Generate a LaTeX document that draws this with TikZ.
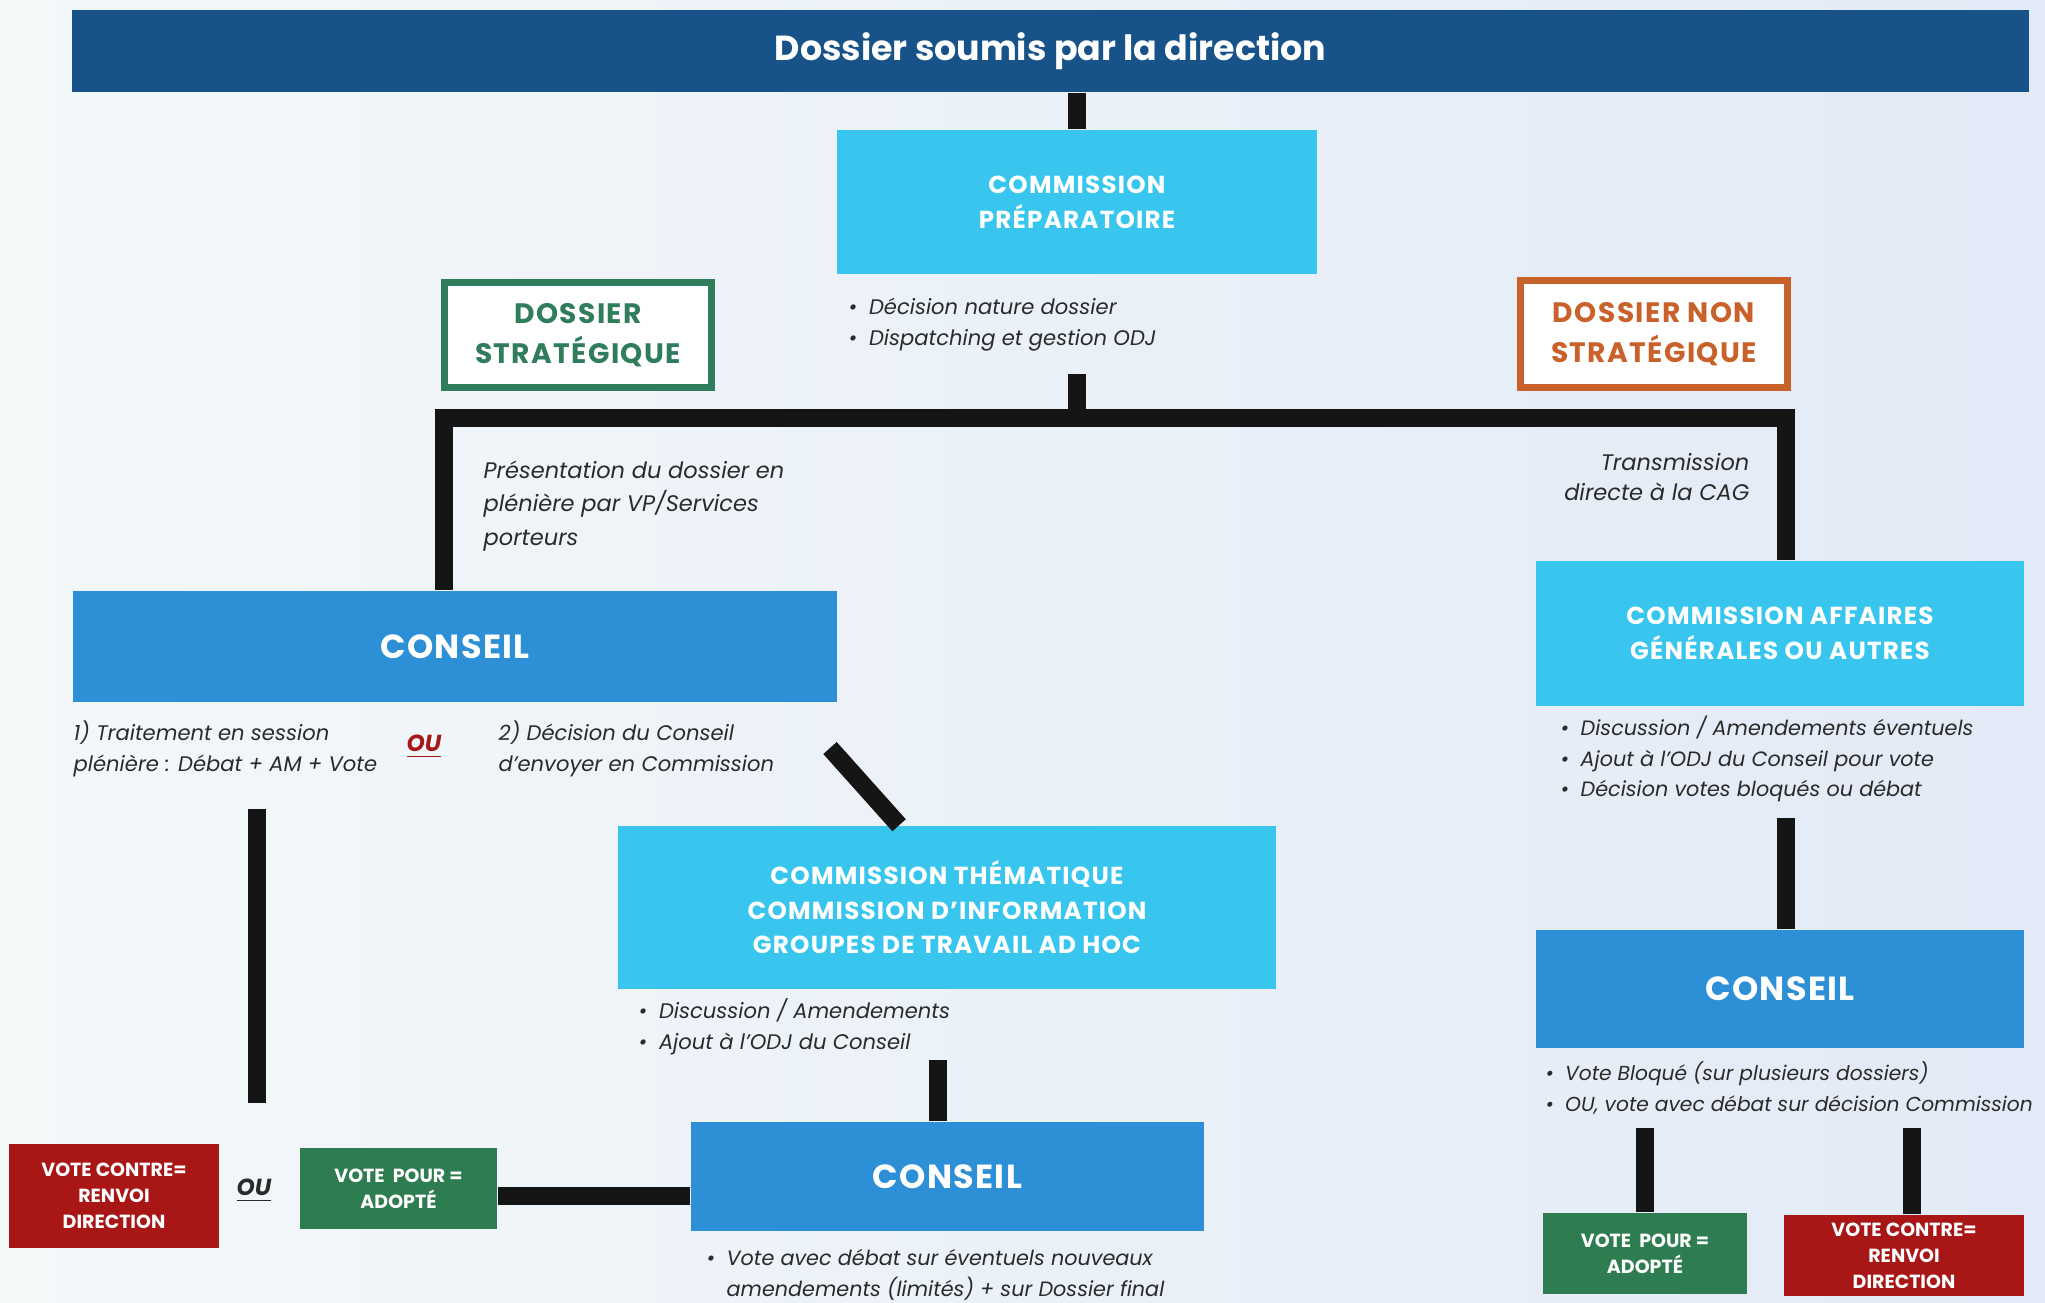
\documentclass[tikz,border=0pt]{standalone}
\usepackage{fontspec}
\setmainfont{Poppins}
\usetikzlibrary{calc}

\definecolor{bgleft}{HTML}{F3F8F9}
\definecolor{bgright}{HTML}{E2EAF7}
\definecolor{titleblue}{HTML}{175288}
\definecolor{cyanbox}{HTML}{38C6EE}
\definecolor{conseilblue}{HTML}{2D8FD5}
\definecolor{stratgreen}{HTML}{2F7D5A}
\definecolor{nonstratorange}{HTML}{C9622A}
\definecolor{votegreen}{HTML}{2E7D50}
\definecolor{votered}{HTML}{A81616}
\definecolor{notetext}{HTML}{2A2A2A}
\definecolor{linkcol}{HTML}{151515}

\newcommand{\itembul}{\textbullet\hspace{0.55em}}

\begin{document}
\begin{tikzpicture}[x=0.01cm, y=-0.01cm,
  link/.style={line width=0.18cm, draw=linkcol},
  fillbox/.style={fill=#1, text=white, align=center, inner sep=0pt,
    font=\bfseries\fontsize{7}{10}\selectfont\addfontfeature{LetterSpace=5}},
  tagbox/.style={draw=#1, line width=0.07cm, fill=white, text=#1, align=center,
    inner sep=0pt, font=\bfseries\fontsize{8}{11.4}\selectfont\addfontfeature{LetterSpace=5}},
  conseil/.style={fillbox=conseilblue, font=\bfseries\fontsize{9.5}{11}\selectfont\addfontfeature{LetterSpace=4}},
  vote/.style={fillbox=#1, font=\bfseries\fontsize{5.4}{7.4}\selectfont},
  note/.style={text=notetext, align=left, inner sep=0pt,
    font=\itshape\fontsize{6}{8.8}\selectfont},
  ou/.style={inner sep=0pt, font=\bfseries\itshape\fontsize{6.6}{8}\selectfont}]

% background and page
\shade[left color=bgleft, right color=bgright] (0,0) rectangle (2045,1302);
\useasboundingbox (0,0) rectangle (2045,1302);

% top
\node[fill=titleblue, text=white, minimum width=19.55cm, minimum height=0.82cm,
  font=\bfseries\fontsize{9.9}{12}\selectfont] (title) at (1050.5,51) {Dossier soumis par la direction};
\node[fillbox=cyanbox, minimum width=4.8cm, minimum height=1.44cm] (prep) at (1077,202) {COMMISSION\\PRÉPARATOIRE};
\node[note, anchor=west] (prepnotes) at (848,324.5) {\itembul Décision nature dossier\\\itembul Dispatching et gestion ODJ};

\node[tagbox=stratgreen, minimum width=2.67cm, minimum height=1.05cm] (strat) at (578,335) {DOSSIER\\STRATÉGIQUE};
\node[tagbox=nonstratorange, minimum width=2.67cm, minimum height=1.07cm] (nonstrat) at (1654,334) {DOSSIER NON\\STRATÉGIQUE};

% left branch
\node[note, anchor=west, font=\itshape\fontsize{6.4}{9.6}\selectfont] (presnote) at (483,506) {Présentation du dossier en\\plénière par VP/Services\\porteurs};
\node[conseil, minimum width=7.64cm, minimum height=1.11cm] (conseilA) at (455,646.5) {CONSEIL};
\node[note, anchor=west] (traitnote) at (73,748.5) {1) Traitement en session\\plénière : Débat + AM + Vote};
\node[ou, text=votered] (ouA) at (424,747) {\underline{OU}};
\node[note, anchor=west] (decinote) at (498,748.5) {2) Décision du Conseil\\d’envoyer en Commission};

\node[fillbox=cyanbox, minimum width=6.58cm, minimum height=1.63cm, font=\bfseries\fontsize{7}{9.8}\selectfont\addfontfeature{LetterSpace=5}] (themat) at (947,907.5) {COMMISSION THÉMATIQUE\\COMMISSION D’INFORMATION\\GROUPES DE TRAVAIL AD HOC};
\node[note, anchor=west] (thematnotes) at (638,1027) {\itembul Discussion / Amendements\\\itembul Ajout à l’ODJ du Conseil};
\node[conseil, minimum width=5.13cm, minimum height=1.09cm] (conseilB) at (947.5,1176.5) {CONSEIL};
\node[note, anchor=west, font=\itshape\fontsize{5.9}{8.8}\selectfont] (conseilBnotes) at (706,1275) {\itembul Vote avec débat sur éventuels nouveaux\\\hphantom{\itembul}amendements (limités) + sur Dossier final};

\node[vote=votegreen, minimum width=1.97cm, minimum height=0.81cm] (pourA) at (398.5,1188.5) {VOTE \ POUR =\\ADOPTÉ};
\node[ou, text=notetext] (ouB) at (254,1191) {\underline{OU}};
\node[vote=votered, minimum width=2.1cm, minimum height=1.04cm] (contreA) at (114,1196) {VOTE CONTRE=\\RENVOI\\DIRECTION};

% right branch
\node[note, anchor=east, align=right, font=\itshape\fontsize{6.4}{8.8}\selectfont] (transnote) at (1750,477) {Transmission\\directe à la CAG};
\node[fillbox=cyanbox, minimum width=4.88cm, minimum height=1.45cm] (cag) at (1780,633.5) {COMMISSION AFFAIRES\\GÉNÉRALES OU AUTRES};
\node[note, anchor=west, font=\itshape\fontsize{5.9}{8.6}\selectfont] (cagnotes) at (1560,759) {\itembul Discussion / Amendements éventuels\\\itembul Ajout à l’ODJ du Conseil pour vote\\\itembul Décision votes bloqués ou débat};
\node[conseil, minimum width=4.88cm, minimum height=1.18cm] (conseilC) at (1780,989) {CONSEIL};
\node[note, anchor=west, font=\itshape\fontsize{5.75}{8.8}\selectfont] (conseilCnotes) at (1545,1088) {\itembul Vote Bloqué (sur plusieurs dossiers)\\\itembul OU, vote avec débat sur décision Commission};
\node[vote=votegreen, minimum width=2.04cm, minimum height=0.81cm] (pourB) at (1645,1253.5) {VOTE \ POUR =\\ADOPTÉ};
\node[vote=votered, minimum width=2.4cm, minimum height=0.81cm] (contreB) at (1904,1255.5) {VOTE CONTRE=\\RENVOI\\DIRECTION};

% connectors
\coordinate (prepbot) at (1077,374);
\coordinate (barL) at (444,418);
\coordinate (barR) at (1786,418);
\coordinate (diagtop) at (830,748);
\coordinate (lvtop) at (257,809);
\coordinate (lvbot) at (257,1103);
\coordinate (thematbot) at (938,1060);
\coordinate (hz) at (0,1196);
\coordinate (cagbot) at (1786,818);
\coordinate (votetop) at (0,1128);

\draw[link] (prep.north |- title.south) -- (prep.north);
\draw[link] (prepbot) -- (prepbot |- barL);
\draw[link, line join=miter] (barL |- conseilA.north) -- (barL) -- (barR) -- (barR |- cag.north);
\draw[link] (diagtop) -- ($(themat.north west)+(282,0)$);
\draw[link] (lvtop) -- (lvbot);
\draw[link] (thematbot) -- (thematbot |- conseilB.north);
\draw[link] (pourA.east |- hz) -- (conseilB.west |- hz);
\draw[link] (cagbot) -- (cagbot |- conseilC.north);
\draw[link] (pourB.north |- votetop) -- (pourB.north);
\draw[link] ($(contreB.north |- votetop)+(8,0)$) -- ($(contreB.north)+(8,0)$);

\end{tikzpicture}
\end{document}
